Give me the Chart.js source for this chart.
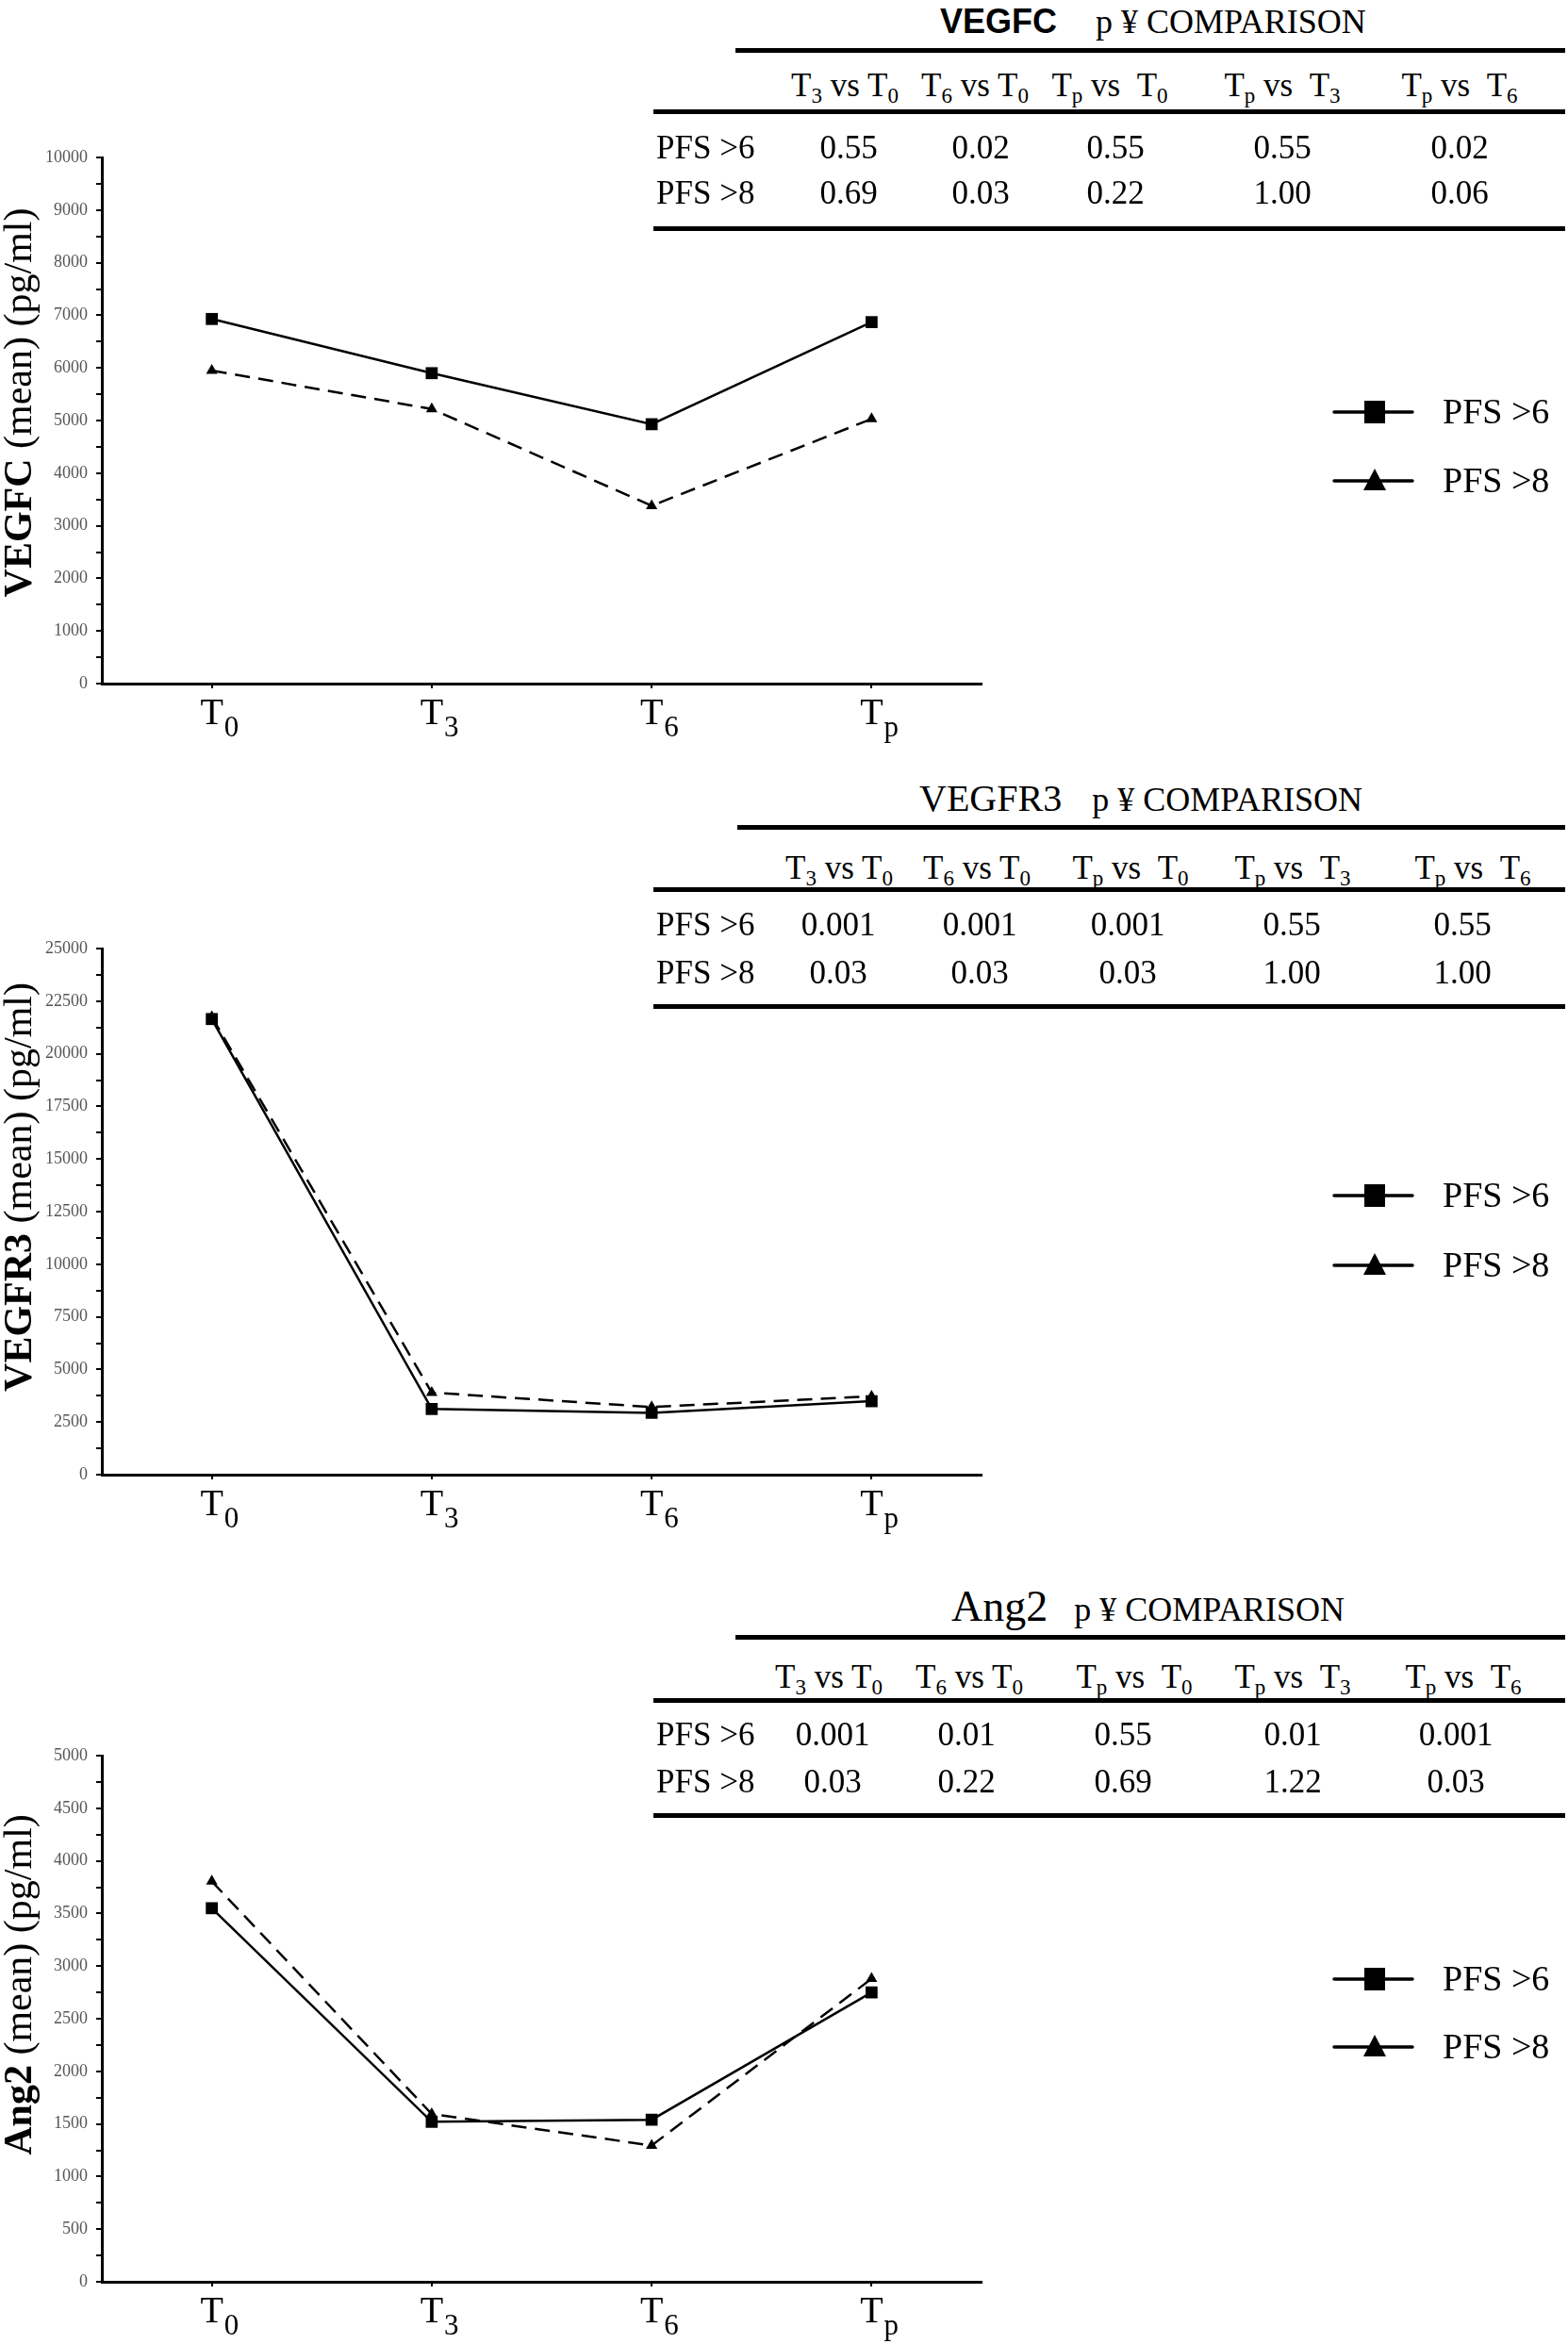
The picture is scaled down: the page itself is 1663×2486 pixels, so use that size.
<!DOCTYPE html>
<html>
<head>
<meta charset="utf-8">
<script src="https://cdn.jsdelivr.net/npm/chart.js@4.4.1/dist/chart.umd.min.js"></script>
<style>
  body { margin: 0; background: #fff; }
  #page { position: relative; width: 1663px; height: 2486px; overflow: hidden; background: #fff;
          font-family: "Liberation Serif", serif; color: #000; }
  canvas { position: absolute; left: 0; }
  .txt { position: absolute; transform: translate(-50%, -50%); line-height: 1; white-space: nowrap; font-size: 35px; }
  .lft { transform: translate(0, -50%); }
  .rule { position: absolute; height: 5px; background: #000; }
  .ttl { position: absolute; transform: translate(0, -50%); line-height: 1; white-space: nowrap; font-size: 36px; }
  sub { font-size: 23px; vertical-align: -0.32em; line-height: 0; }
</style>
</head>
<body>
<div id="page">
  <canvas id="c1" width="1663" height="658"></canvas>
  <canvas id="c2" width="1663" height="658"></canvas>
  <canvas id="c3" width="1663" height="658"></canvas>
</div>
<script>
// time points (T + subscript) and series
const timeSubs = ['0', '3', '6', 'p'];
const seriesNames = ['PFS >6', 'PFS >8'];

// mean values (pg/ml)
const vegfcPfs6 = [6930, 5900, 4930, 6870];
const vegfcPfs8 = [5950, 5220, 3380, 5030];
const vegfr3Pfs6 = [21650, 3120, 2940, 3490];
const vegfr3Pfs8 = [21750, 3900, 3215, 3720];
const ang2Pfs6 = [3550, 1520, 1540, 2750];
const ang2Pfs8 = [3805, 1595, 1295, 2880];

// y axis: max and labelled step
const yMaxes = [10000, 25000, 5000];
const yMajors = [1000, 2500, 500];

// p value tables
const compPairs = [['3', '0'], ['6', '0'], ['p', '0'], ['p', '3'], ['p', '6']];
const vegfcP6 = ['0.55', '0.02', '0.55', '0.55', '0.02'];
const vegfcP8 = ['0.69', '0.03', '0.22', '1.00', '0.06'];
const vegfr3P6 = ['0.001', '0.001', '0.001', '0.55', '0.55'];
const vegfr3P8 = ['0.03', '0.03', '0.03', '1.00', '1.00'];
const ang2P6 = ['0.001', '0.01', '0.55', '0.01', '0.001'];
const ang2P8 = ['0.03', '0.22', '0.69', '1.22', '0.03'];

const page = document.getElementById('page');

// layout of each panel
const panels = [
  { marker: 'VEGFC', markerFont: "bold 36px 'Liberation Sans'", titleX: 997, titleY: 23, gap: 41,
    rules: [[53, 780], [118, 693], [242, 693]], headY: 90, rowY: [156, 204],
    headX: [896, 1034, 1177, 1360, 1548], valX: [900, 1040, 1183, 1360, 1548],
    p6: vegfcP6, p8: vegfcP8,
    canvas: 'c1', plotTop: 167, pfs6: vegfcPfs6, pfs8: vegfcPfs8, titleShift: -19, legendY: [300, 373] },
  { marker: 'VEGFR3', markerFont: "40px 'Liberation Serif'", titleX: 975, titleY: 846, gap: 32,
    rules: [[877, 782], [943, 693], [1067, 693]], headY: 920, rowY: [980, 1031],
    headX: [890, 1036, 1199, 1371, 1562], valX: [889, 1039, 1196, 1370, 1551],
    p6: vegfr3P6, p8: vegfr3P8,
    canvas: 'c2', plotTop: 1006, pfs6: vegfr3Pfs6, pfs8: vegfr3Pfs8, titleShift: -26, legendY: [292, 366] },
  { marker: 'Ang2', markerFont: "46px 'Liberation Serif'", titleX: 1009, titleY: 1703, gap: 28,
    rules: [[1736, 780], [1803, 693], [1925, 693]], headY: 1778, rowY: [1839, 1889],
    headX: [879, 1028, 1203, 1371, 1552], valX: [883, 1025, 1191, 1371, 1544],
    p6: ang2P6, p8: ang2P8,
    canvas: 'c3', plotTop: 1862, pfs6: ang2Pfs6, pfs8: ang2Pfs8, titleShift: -36, legendY: [267, 339] }
];

function addDiv(cls, html, x, y, extra) {
  let d = document.createElement('div');
  d.className = cls;
  d.innerHTML = html;
  d.style.left = x + 'px';
  d.style.top = y + 'px';
  if (extra) Object.assign(d.style, extra);
  page.appendChild(d);
  return d;
}

// the comparison tables
panels.forEach(p => {
  let t = addDiv('ttl', '', p.titleX, p.titleY);
  let m = document.createElement('span');
  m.style.font = p.markerFont;
  m.textContent = p.marker;
  let c = document.createElement('span');
  c.style.marginLeft = p.gap + 'px';
  c.textContent = 'p ¥ COMPARISON';
  t.appendChild(m);
  t.appendChild(c);
  p.rules.forEach(r => {
    addDiv('rule', '', r[1], r[0] - 2.5, { width: (1660 - r[1]) + 'px' });
  });
  compPairs.forEach((c, i) => {
    let sp = c[0] === 'p' ? '&nbsp;' : '';
    addDiv('txt', 'T<sub>' + c[0] + '</sub> vs ' + sp + 'T<sub>' + c[1] + '</sub>', p.headX[i], p.headY);
    addDiv('txt', p.p6[i], p.valX[i], p.rowY[0]);
    addDiv('txt', p.p8[i], p.valX[i], p.rowY[1]);
  });
  addDiv('txt lft', seriesNames[0], 696, p.rowY[0]);
  addDiv('txt lft', seriesNames[1], 696, p.rowY[1]);
});

// x labels with subscripts, drawn at the category positions
const subLabels = {
  id: 'subLabels',
  afterDraw(chart) {
    const ctx = chart.ctx;
    const xs = chart.scales.x;
    ctx.save();
    ctx.fillStyle = '#000';
    ctx.textBaseline = 'alphabetic';
    timeSubs.forEach((s, i) => {
      let x = xs.getPixelForValue(i);
      let y = xs.top + 43;
      ctx.font = '40px "Liberation Serif"';
      ctx.textAlign = 'center';
      ctx.fillText('T', x, y);
      let tw = ctx.measureText('T').width;
      ctx.font = '31px "Liberation Serif"';
      ctx.textAlign = 'left';
      ctx.fillText(s, x + tw / 2 + 1, y + 13);
    });
    ctx.restore();
  }
};

// rotated y title: bold marker name + regular unit
const yTitle = {
  id: 'yTitle',
  afterDraw(chart, args, opts) {
    const ctx = chart.ctx;
    const a = chart.chartArea;
    const rest = ' (mean) (pg/ml)';
    ctx.save();
    ctx.translate(33, (a.top + a.bottom) / 2 + opts.shift);
    ctx.rotate(-Math.PI / 2);
    ctx.fillStyle = '#000';
    ctx.textAlign = 'left';
    ctx.textBaseline = 'alphabetic';
    ctx.font = 'bold 42px "Liberation Serif"';
    let w1 = ctx.measureText(opts.name).width;
    ctx.font = '42px "Liberation Serif"';
    let w2 = ctx.measureText(rest).width;
    let start = -(w1 + w2) / 2;
    ctx.font = 'bold 42px "Liberation Serif"';
    ctx.fillText(opts.name, start, 0);
    ctx.font = '42px "Liberation Serif"';
    ctx.fillText(rest, start + w1, 0);
    ctx.restore();
  }
};

// legend to the right: line + marker + name
const sideLegend = {
  id: 'sideLegend',
  afterDraw(chart, args, opts) {
    const ctx = chart.ctx;
    ctx.save();
    chart.data.datasets.forEach((ds, i) => {
      let y = opts.rows[i];
      ctx.strokeStyle = '#000';
      ctx.lineWidth = 3.5;
      ctx.lineCap = 'round';
      ctx.beginPath();
      ctx.moveTo(1415, y);
      ctx.lineTo(1498, y);
      ctx.stroke();
      ctx.fillStyle = '#000';
      if (ds.pointStyle === 'rect') {
        ctx.fillRect(1458 - 11, y - 12, 22, 24);
      } else {
        ctx.beginPath();
        ctx.moveTo(1458, y - 13);
        ctx.lineTo(1470, y + 10);
        ctx.lineTo(1446, y + 10);
        ctx.closePath();
        ctx.fill();
      }
      ctx.font = '38px "Liberation Serif"';
      ctx.textAlign = 'left';
      ctx.textBaseline = 'alphabetic';
      ctx.fillText(ds.label, 1530, y + 12);
    });
    ctx.restore();
  }
};

function makeChart(p, k) {
  let cv = document.getElementById(p.canvas);
  cv.style.top = (p.plotTop - 30) + 'px';
  let major = yMajors[k];
  return new Chart(cv, {
    type: 'line',
    data: {
      labels: timeSubs.map(s => 'T' + s),
      datasets: [{
        label: seriesNames[0],
        data: p.pfs6,
        borderColor: '#000',
        borderWidth: 2.5,
        pointStyle: 'rect',
        pointRadius: 9,
        pointBackgroundColor: '#000',
        pointBorderColor: '#000',
        pointBorderWidth: 0,
        tension: 0
      }, {
        label: seriesNames[1],
        data: p.pfs8,
        borderColor: '#000',
        borderWidth: 2.5,
        borderDash: [16, 9],
        pointStyle: 'triangle',
        pointRadius: 7,
        pointBackgroundColor: '#000',
        pointBorderColor: '#000',
        pointBorderWidth: 0,
        tension: 0
      }]
    },
    options: {
      responsive: false,
      animation: false,
      devicePixelRatio: 1,
      layout: { padding: { top: 30, right: 622, bottom: 0, left: 0 } },
      plugins: {
        legend: { display: false },
        tooltip: { enabled: false },
        yTitle: { name: p.marker, shift: p.titleShift },
        sideLegend: { rows: p.legendY }
      },
      scales: {
        x: {
          offset: true,
          border: { color: '#000', width: 3 },
          grid: { drawOnChartArea: false, color: '#000', lineWidth: 2, tickLength: 5 },
          ticks: { display: false },
          afterFit: s => { s.height = 70; }
        },
        y: {
          min: 0,
          max: yMaxes[k],
          border: { color: '#000', width: 3 },
          grid: { drawOnChartArea: false, color: '#000', lineWidth: 2, tickLength: 6 },
          ticks: {
            stepSize: major / 2,
            autoSkip: false,
            padding: 9,
            color: '#555',
            font: { family: 'Liberation Serif', size: 18 },
            callback: v => (v % major === 0 ? String(v) : '')
          },
          afterFit: s => { s.width = 108; }
        }
      }
    },
    plugins: [subLabels, yTitle, sideLegend]
  });
}

panels.forEach((p, k) => makeChart(p, k));
</script>
</body>
</html>
